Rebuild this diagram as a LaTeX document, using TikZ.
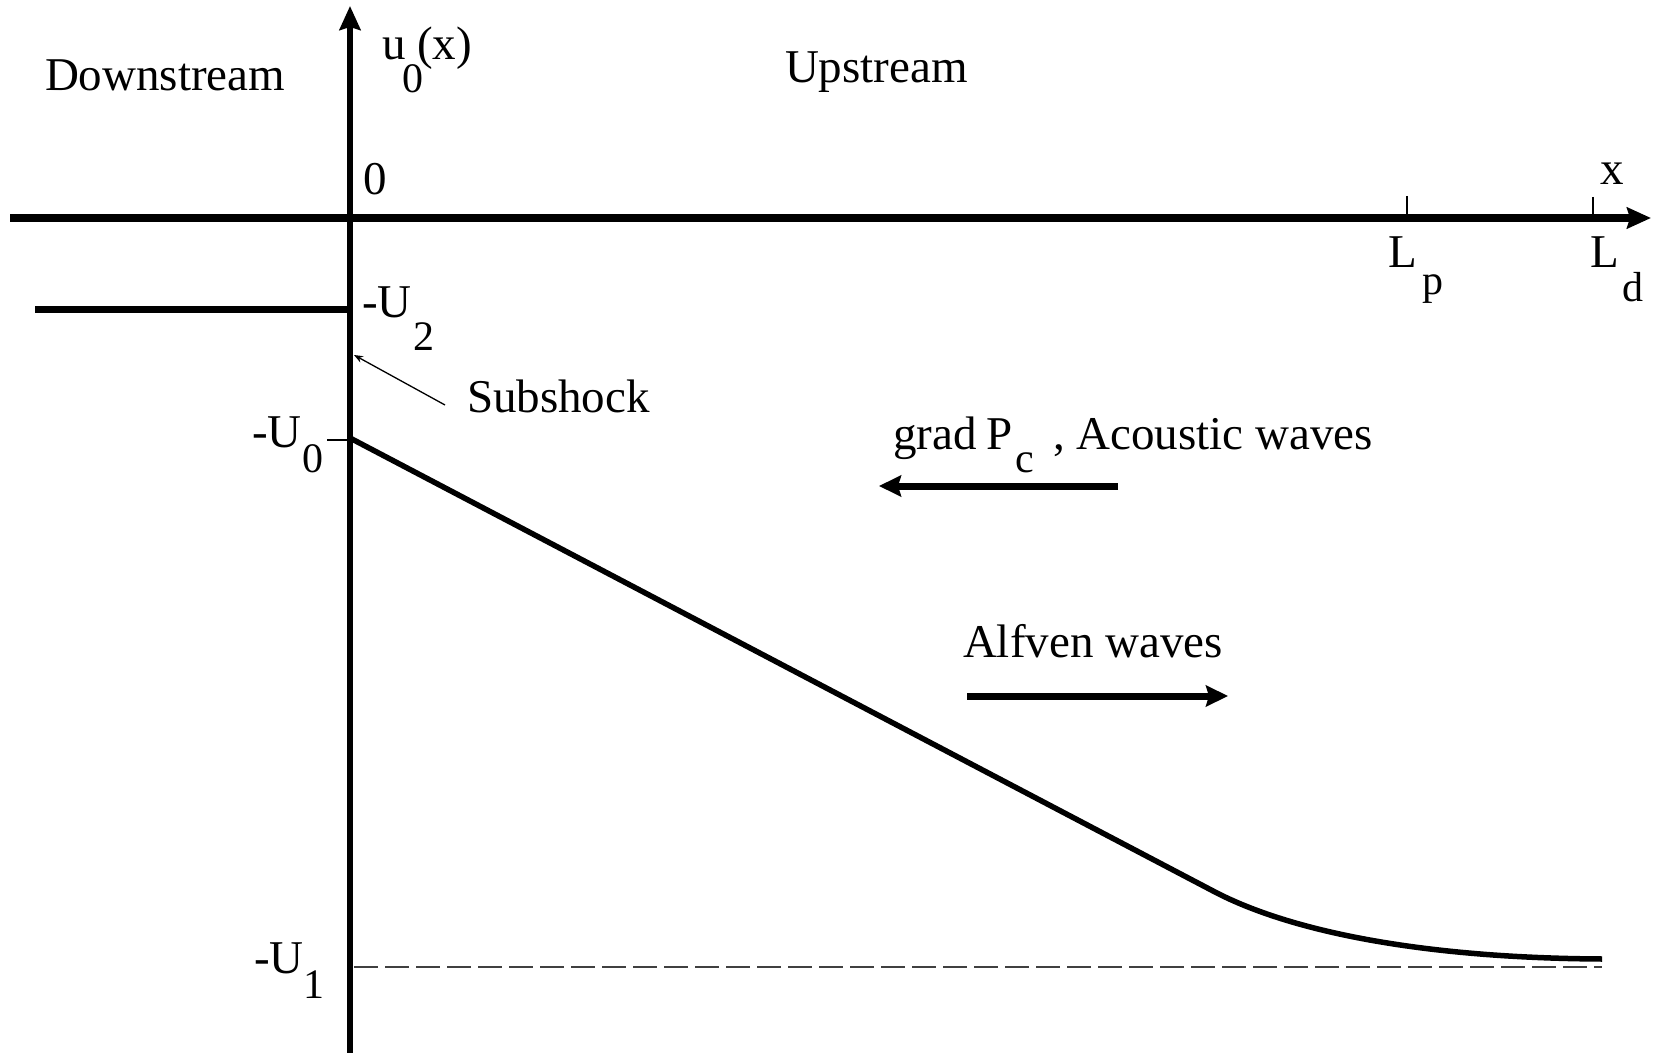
\documentclass[tikz,border=0pt]{standalone}
\usepackage{fontspec}
\setmainfont{Liberation Serif}
\usetikzlibrary{arrows.meta}
\begin{document}
\begin{tikzpicture}[x=0.5pt,y=-0.5pt,
  lbl/.style={anchor=base west,inner sep=0pt,outer sep=0pt,font=\fontsize{23.5}{27}\selectfont},
  sub/.style={anchor=base west,inner sep=0pt,outer sep=0pt,font=\fontsize{21}{25}\selectfont},
  bighead/.style={-{Stealth[length=12pt,width=10.5pt,inset=1.5pt]}},
  thinline/.style={line width=0.75pt}]
\useasboundingbox (0,0) rectangle (1654,1053);
% coordinates
\coordinate (xs) at (10,218);
\coordinate (xe) at (1651,218);
\coordinate (ys) at (350,1053);
\coordinate (ye) at (350,6);
\coordinate (u2a) at (35,309.5);
\coordinate (u2b) at (350,309.5);
\coordinate (lpt) at (1407,196);
\coordinate (lpb) at (1407,218);
\coordinate (ldt) at (1593,197);
\coordinate (ldb) at (1593,218);
\coordinate (t0a) at (327,440);
\coordinate (t0b) at (350,440);
\coordinate (c0) at (350,438);
\coordinate (c1) at (1215,892);
\coordinate (c2) at (1602,959);
\coordinate (d0) at (354,967);
\coordinate (d1) at (1602,967);
\coordinate (ga) at (1118,486);
\coordinate (gb) at (879,486);
\coordinate (aa) at (967,696);
\coordinate (ab) at (1228,696);
\coordinate (sa) at (445,405);
\coordinate (sb) at (354,355);
% axes
\draw[line width=4pt,bighead] (xs) -- (xe);
\draw[line width=3pt,bighead] (ys) -- (ye);
\draw[thinline] (lpt) -- (lpb);
\draw[thinline] (ldt) -- (ldb);
\draw[thinline] (t0a) -- (t0b);
% downstream level
\draw[line width=3.5pt] (u2a) -- (u2b);
% profile
\draw[line width=2.75pt] (c0) -- (c1) .. controls (1290,931) and (1420,958) .. (c2);
\draw[line width=1.35pt,black!75,dash pattern=on 12pt off 3.5pt] (d0) -- (d1);
% wave arrows
\draw[line width=3.5pt,-{Stealth[length=11pt,width=10.5pt,inset=1.5pt]}] (ga) -- (gb);
\draw[line width=3.5pt,-{Stealth[length=11pt,width=10.5pt,inset=1.5pt]}] (aa) -- (ab);
% subshock pointer
\draw[line width=0.65pt,-{Stealth[length=4.5pt,width=3.5pt]}] (sa) -- (sb);
% labels
\node[lbl] (down) at (45,91) {Downstream};
\node[lbl] (up) at (785,83) {Upstream};
\node[lbl] (uu) at (382,60) {u};
\node[sub] (u0) at (402,93) {0};
\node[lbl] (ux) at (417,60) {(x)};
\node[lbl] (zero) at (363,195) {0};
\node[lbl] (xl) at (1600,185) {x};
\node[lbl] (lp) at (1388,268) {L};
\node[sub] (lps) at (1422,295) {p};
\node[lbl] (ld) at (1590,268) {L};
\node[sub] (lds) at (1622,302) {d};
\node[lbl] (mu2) at (362,318) {-U};
\node[sub] (mu2s) at (413,351) {2};
\node[lbl] (mu0) at (252,447) {-U};
\node[sub] (mu0s) at (302,473) {0};
\node[lbl] (mu1) at (254,973) {-U};
\node[sub] (mu1s) at (303,998) {1};
\node[lbl] (sub) at (467,413) {Subshock};
\node[lbl] (grad) at (893,450) {grad};
\node[lbl] (gradP) at (986,450) {P};
\node[sub] (gradc) at (1015,473) {c};
\node[lbl] (ac) at (1053,450) {, Acoustic waves};
\node[lbl] (alf) at (963,657) {Alfven waves};
\end{tikzpicture}
\end{document}
